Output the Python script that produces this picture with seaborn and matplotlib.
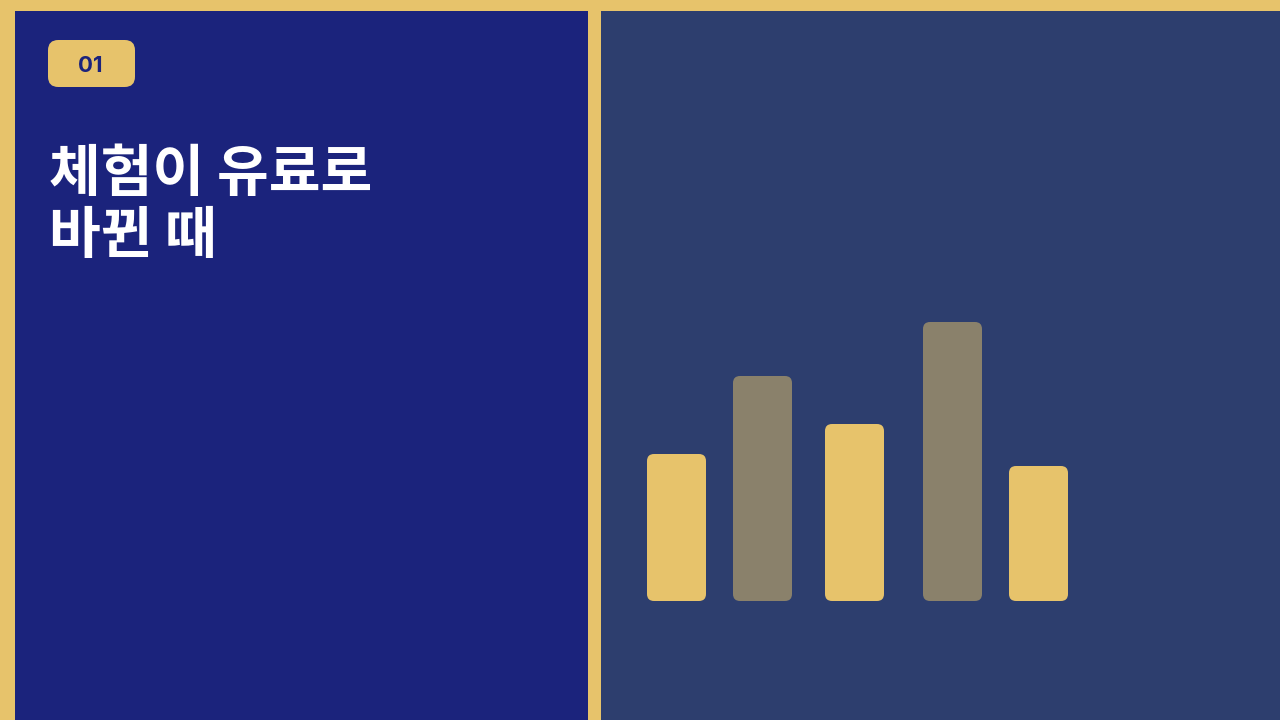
import matplotlib
matplotlib.use("Agg")
import matplotlib.pyplot as plt
from matplotlib.patches import FancyBboxPatch, Rectangle
import seaborn as sns
import pandas as pd

# Data
labels = ["A", "B", "C", "D", "E"]
values = [147, 225, 177, 279, 135]
groups = ["gold", "gray", "gold", "gray", "gold"]

badge_text = "01"
title_text = "체험이 유료로\n바뀐 때"

# layout (pixel positions of bar centres)
x_pos = [676.5, 762.5, 854.5, 952.5, 1038.5]

GOLD = "#E7C36B"
GRAY = "#8A816B"
LEFT_BG = "#1B237C"
RIGHT_BG = "#2D3E6E"
FONT = ["Noto Sans CJK KR", "DejaVu Sans"]

sns.set_theme(style="white")
plt.rcParams["font.family"] = FONT

W, H = 1280, 720
fig = plt.figure(figsize=(12.8, 7.2), dpi=100)
fig.patch.set_facecolor(GOLD)

def fx(px):
    return px / W

def fy(py):
    return 1 - py / H

# left panel
fig.patches.append(Rectangle((fx(15), 0), fx(588 - 15), 709 / H,
                             transform=fig.transFigure, facecolor=LEFT_BG,
                             edgecolor="none", zorder=0))

# badge
fig.patches.append(FancyBboxPatch((fx(48), fy(87)), fx(87), 47 / H,
                                  boxstyle="round,pad=0,rounding_size=0.008",
                                  transform=fig.transFigure, facecolor=GOLD,
                                  edgecolor="none", zorder=1,
                                  mutation_aspect=W / H))
fig.text(fx(90.5), fy(66.5), badge_text, ha="center", va="center", fontsize=16,
         fontweight="bold", color=LEFT_BG, family=["Inter", "DejaVu Sans"])

# title
fig.text(fx(49), fy(146), title_text, ha="left", va="top", fontsize=40.5,
         fontweight="bold", color="white", family=FONT, linespacing=1.1)

# right panel with bars (axes in pixel units)
ax = fig.add_axes([fx(601), 0, fx(1280 - 601), 709 / H])
ax.set_facecolor(RIGHT_BG)

df = pd.DataFrame({"x": x_pos, "value": values, "group": groups, "label": labels})
sns.barplot(data=df, x="x", y="value", hue="group",
            palette={"gold": GOLD, "gray": GRAY}, native_scale=True,
            width=59 / 86, dodge=False, legend=False, ax=ax, saturation=1)

ax.set_xlim(601, 1280)
ax.set_ylim(-119, 590)

# swap plain bars for rounded ones
for p in list(ax.patches):
    x0, y0 = p.get_x(), p.get_y()
    w, h = p.get_width(), p.get_height()
    if h <= 0:
        p.remove()
        continue
    fc = p.get_facecolor()
    p.remove()
    ax.add_patch(FancyBboxPatch((x0, y0), w, h,
                                boxstyle="round,pad=0,rounding_size=7",
                                facecolor=fc, edgecolor="none"))

ax.set_xlabel("")
ax.set_ylabel("")
ax.set_xticks([])
ax.set_yticks([])
for s in ax.spines.values():
    s.set_visible(False)

fig.savefig("out.png", dpi=100, facecolor=fig.get_facecolor())
